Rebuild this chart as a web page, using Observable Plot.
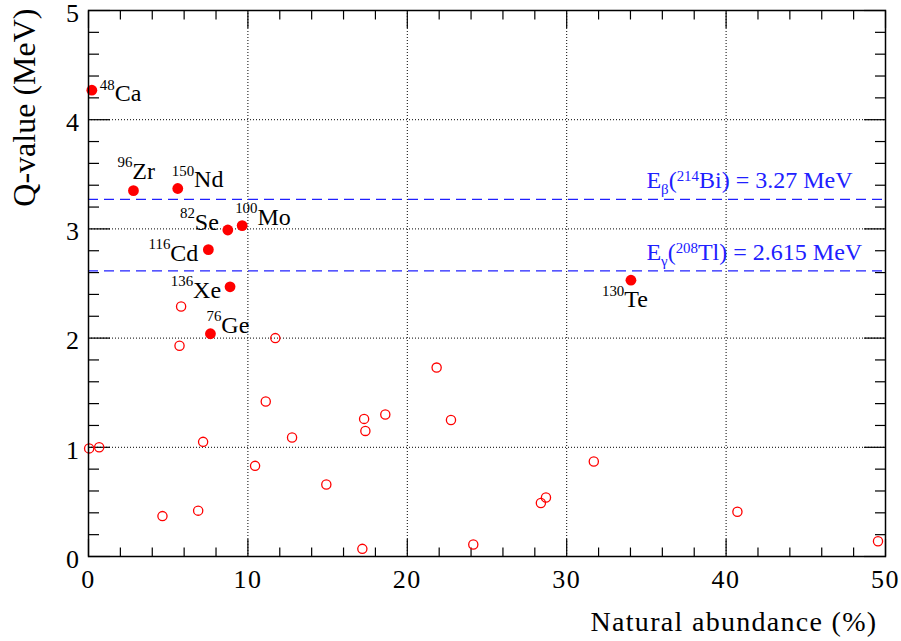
<!DOCTYPE html>
<html><head><meta charset="utf-8">
<script src="https://cdn.jsdelivr.net/npm/d3@7"></script>
<script src="https://cdn.jsdelivr.net/npm/@observablehq/plot@0.6"></script>
<style>
body{margin:0;background:#fff;}
#chart svg, #chart svg text, #chart svg tspan{font-family:"Liberation Serif","Times New Roman",serif !important;}
#chart svg g[aria-label="x-axis tick label"], #chart svg g[aria-label="y-axis tick label"]{letter-spacing:1.5px;font-variant-numeric:normal;}
#chart svg g.xtitle{letter-spacing:1.3px;}
</style></head><body><div id="chart"></div>
<script>
// Double-beta candidates (labelled, filled markers)
const labeledIsotopes = ["48Ca","96Zr","150Nd","82Se","100Mo","116Cd","136Xe","76Ge","130Te"];
const labeledMass = ["48","96","150","82","100","116","136","76","130"];
const labeledElement = ["Ca","Zr","Nd","Se","Mo","Cd","Xe","Ge","Te"];
const labeledAbundance = [0.21, 2.82, 5.60, 8.74, 9.64, 7.52, 8.88, 7.65, 34.03];
const labeledQ = [4.27, 3.35, 3.37, 2.99, 3.03, 2.81, 2.47, 2.04, 2.53];

// Other isotopes (open markers)
const otherAbundance = [0.04, 0.67, 5.81, 5.71, 7.19, 4.64, 6.88, 11.72, 11.12, 12.77, 10.45, 14.92, 17.29, 17.37, 18.62, 17.18, 21.84, 22.74, 24.14, 28.38, 28.70, 31.70, 40.71, 49.53];
const otherQ = [0.99, 1.00, 2.29, 1.93, 1.05, 0.37, 0.42, 2.00, 1.42, 1.09, 0.83, 0.66, 1.26, 1.15, 1.30, 0.07, 1.73, 1.25, 0.11, 0.49, 0.54, 0.87, 0.41, 0.14];

// Background reference energies
const refValues = [3.27, 2.615];
const refLabels = ["E_{β}(^{214}Bi) = 3.27 MeV", "E_{γ}(^{208}Tl) = 2.615 MeV"];
const refLabelAbundance = 35;

// Axis ticks
const xMajorTicks = [0, 10, 20, 30, 40, 50];
const xMinorTicks = [2,4,6,8,12,14,16,18,22,24,26,28,32,34,36,38,42,44,46,48];
const yMajorTicks = [0, 1, 2, 3, 4, 5];
const yMinorTicks = [0.2,0.4,0.6,0.8,1.2,1.4,1.6,1.8,2.2,2.4,2.6,2.8,3.2,3.4,3.6,3.8,4.2,4.4,4.6,4.8];
const xTitle = "Natural abundance (%)";
const yTitle = "Q-value (MeV)";

// label placement (pixel offsets from the marker)
const labelPlacement = {
  "48Ca": {dx: 8, dy: 11, anchor: "start"},
  "96Zr": {dx: -16, dy: -12, anchor: "start"},
  "150Nd": {dx: -6, dy: -1, anchor: "start"},
  "82Se": {dx: -9, dy: 0, anchor: "end"},
  "100Mo": {dx: -7, dy: -1, anchor: "start"},
  "116Cd": {dx: -10, dy: 11, anchor: "end"},
  "136Xe": {dx: -9, dy: 11, anchor: "end"},
  "76Ge": {dx: -4, dy: -1, anchor: "start"},
  "130Te": {dx: 17, dy: 27, anchor: "end"}
};

const labeled = labeledIsotopes.map((id, i) => ({id, text: `^{${labeledMass[i]}}${labeledElement[i]}`, x: labeledAbundance[i], y: labeledQ[i]}));
const others = otherAbundance.map((x, i) => ({x, y: otherQ[i]}));
const refs = refValues.map((v, i) => ({y: v, text: refLabels[i], x: refLabelAbundance}));

const red = "#ff0000", blue = "#2020ff";
const serif = "'Liberation Serif', 'Times New Roman', serif";

const axisTicks = [];
for (const anchor of ["bottom", "top"]) {
  axisTicks.push(Plot.axisX({anchor, ticks: xMajorTicks, tickSize: -17, tickFormat: () => "", label: null, strokeWidth: 1.2}));
  axisTicks.push(Plot.axisX({anchor, ticks: xMinorTicks, tickSize: -8.5, tickFormat: () => "", label: null, strokeWidth: 1.2}));
}
for (const anchor of ["left", "right"]) {
  axisTicks.push(Plot.axisY({anchor, ticks: yMajorTicks, tickSize: -22, tickFormat: () => "", label: null, strokeWidth: 1.2}));
  axisTicks.push(Plot.axisY({anchor, ticks: yMinorTicks, tickSize: -11, tickFormat: () => "", label: null, strokeWidth: 1.2}));
}

const labelMarks = labeled.map(d => {
  const p = labelPlacement[d.id];
  return Plot.text([d], {x: "x", y: "y", text: "text", textAnchor: p.anchor, lineAnchor: "bottom", dx: p.dx, dy: p.dy, fontSize: 24, fontFamily: serif, fill: "black", className: "iso-label"});
});

const chart = Plot.plot({
  width: 901, height: 641,
  marginLeft: 88, marginRight: 16, marginTop: 10, marginBottom: 85,
  style: {fontFamily: serif, background: "white", fontSize: "24px"},
  x: {domain: [0, 50]},
  y: {domain: [0, 5]},
  marks: [
    Plot.ruleX(xMajorTicks.slice(1, -1), {stroke: "black", strokeDasharray: "1,2", strokeWidth: 1}),
    Plot.ruleY(yMajorTicks.slice(1, -1), {stroke: "black", strokeDasharray: "1,2", strokeWidth: 1}),
    Plot.ruleY(refs, {y: "y", stroke: blue, strokeDasharray: "10,6", strokeWidth: 1.3}),
    Plot.text(refs, {x: "x", y: "y", text: "text", textAnchor: "start", lineAnchor: "bottom", dy: -11, fontSize: 24, fontFamily: serif, fill: blue, className: "ref-label"}),
    ...axisTicks,
    Plot.axisX({ticks: xMajorTicks, tickSize: 0, tickPadding: 13, fontSize: 26, fontFamily: serif, label: null, tickFormat: d => d}),
    Plot.axisY({ticks: yMajorTicks, tickSize: 0, tickPadding: 8, fontSize: 26, fontFamily: serif, label: null, dy: 3, tickFormat: d => d}),
    Plot.text([xTitle], {frameAnchor: "bottom-right", textAnchor: "end", lineAnchor: "bottom", dx: -8, dy: 74, fontSize: 28, fontFamily: serif, fill: "black", className: "xtitle"}),
    Plot.text([yTitle], {frameAnchor: "top-left", rotate: -90, textAnchor: "end", lineAnchor: "bottom", dx: -54, dy: -2, fontSize: 32, fontFamily: serif, fill: "black"}),
    Plot.dot(others, {x: "x", y: "y", r: 4.6, stroke: red, strokeWidth: 1.3, fill: "none"}),
    Plot.dot(labeled, {x: "x", y: "y", r: 5.4, fill: red, stroke: "none"}),
    ...labelMarks,
    Plot.frame({stroke: "black", strokeWidth: 1.5})
  ]
});
document.getElementById("chart").appendChild(chart);

// Turn ^{..} and _{..} into super/subscript tspans
d3.select(chart).selectAll("text").each(function() {
  const s = this.textContent;
  if (!/[\^_]\{/.test(s)) return;
  const fs = parseFloat(getComputedStyle(this).fontSize) || 24;
  const isRef = !!this.closest(".ref-label");
  const supShift = isRef ? 0.30 : 0.48;
  const subShift = 0.25;
  const re = /([\^_])\{([^}]*)\}|([^\^_]+)/g;
  let m, cur = 0;
  this.textContent = "";
  while ((m = re.exec(s))) {
    const t = document.createElementNS("http://www.w3.org/2000/svg", "tspan");
    let target = 0;
    if (m[1]) {
      target = m[1] === "^" ? -supShift * fs : subShift * fs;
      t.setAttribute("font-size", (0.62 * fs).toFixed(2));
      t.textContent = m[2];
    } else {
      t.textContent = m[3];
    }
    t.setAttribute("dy", (target - cur).toFixed(2));
    cur = target;
    this.appendChild(t);
  }
});
</script></body></html>
